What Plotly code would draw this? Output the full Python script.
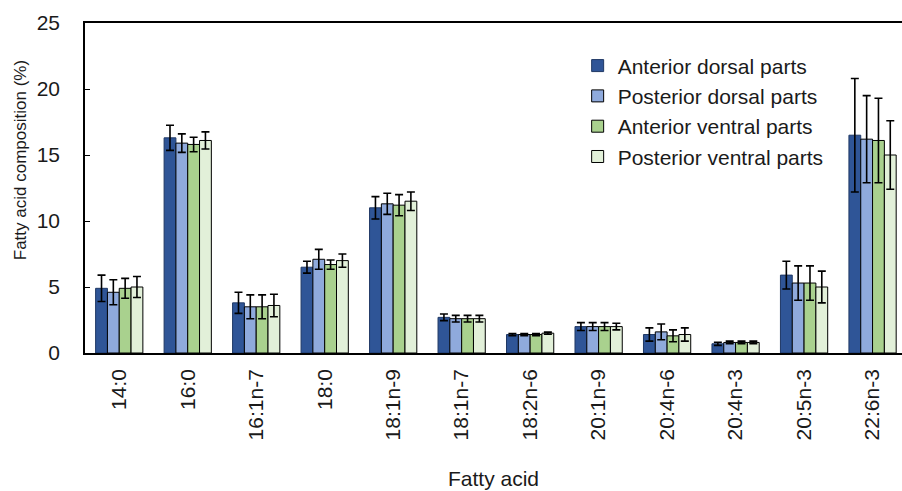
import plotly.graph_objects as go

# Fatty acid categories
acids = ["14:0", "16:0", "16:1n-7", "18:0", "18:1n-9", "18:1n-7",
         "18:2n-6", "20:1n-9", "20:4n-6", "20:4n-3", "20:5n-3", "22:6n-3"]

# Mean composition (%) per body part
ant_dorsal = [4.9, 16.3, 3.8, 6.5, 11.0, 2.7, 1.4, 2.0, 1.4, 0.7, 5.9, 16.5]
post_dorsal = [4.6, 15.9, 3.5, 7.1, 11.3, 2.6, 1.4, 2.0, 1.6, 0.8, 5.3, 16.2]
ant_ventral = [4.9, 15.8, 3.5, 6.7, 11.2, 2.6, 1.4, 2.0, 1.3, 0.8, 5.3, 16.1]
post_ventral = [5.0, 16.1, 3.6, 7.0, 11.5, 2.6, 1.5, 2.0, 1.4, 0.8, 5.0, 15.0]

# Standard deviations
ant_dorsal_sd = [1.0, 0.95, 0.8, 0.45, 0.85, 0.25, 0.08, 0.3, 0.5, 0.12, 1.05, 4.3]
post_dorsal_sd = [0.95, 0.7, 0.9, 0.75, 0.8, 0.25, 0.08, 0.3, 0.6, 0.1, 1.3, 3.3]
ant_ventral_sd = [0.75, 0.55, 0.9, 0.35, 0.8, 0.25, 0.08, 0.3, 0.45, 0.1, 1.3, 3.2]
post_ventral_sd = [0.8, 0.65, 0.85, 0.5, 0.7, 0.25, 0.08, 0.25, 0.5, 0.1, 1.2, 2.6]

series = [
    ("Anterior dorsal parts", ant_dorsal, ant_dorsal_sd, "#2F5597", "#1F3864"),
    ("Posterior dorsal parts", post_dorsal, post_dorsal_sd, "#8FAADC", "#000000"),
    ("Anterior ventral parts", ant_ventral, ant_ventral_sd, "#A9D18E", "#000000"),
    ("Posterior ventral parts", post_ventral, post_ventral_sd, "#E2F0D9", "#000000"),
]

fig = go.Figure()
for name, vals, sd, fill, edge in series:
    fig.add_trace(go.Bar(
        name=name, x=acids, y=vals,
        marker=dict(color=fill, line=dict(color=edge, width=1)),
        error_y=dict(type="data", array=sd, visible=True,
                     color="black", thickness=1.6, width=4),
    ))

font_family = "Liberation Sans, Arial, sans-serif"
text_color = "#1a1a1a"

fig.update_layout(
    width=902, height=491,
    margin=dict(l=85, r=0, t=23, b=138),
    barmode="group", bargap=0.31, bargroupgap=0.0,
    plot_bgcolor="white", paper_bgcolor="white",
    font=dict(family=font_family, color=text_color),
    legend=dict(x=0.603, y=0.932, xanchor="left", yanchor="top",
                font=dict(size=21, color=text_color),
                bgcolor="rgba(0,0,0,0)", tracegroupgap=5,
                itemwidth=30),
    xaxis=dict(
        range=[-0.5, 11.43],
        tickangle=-90, tickfont=dict(size=21),
        ticklabelstandoff=6,
        showline=True, linecolor="black", linewidth=1.5, mirror=True,
        ticks="", showgrid=False,
        title=dict(text="Fatty acid", font=dict(size=21), standoff=32),
    ),
    yaxis=dict(
        range=[0, 25], dtick=5,
        tickfont=dict(size=21),
        showline=True, linecolor="black", linewidth=1.5,
        ticks="inside", ticklen=5, tickcolor="black", tickwidth=1.2,
        ticklabelstandoff=19,
        showgrid=False, zeroline=False,
    ),
    annotations=[dict(
        text="Fatty acid composition (%)", textangle=-90,
        xref="paper", yref="paper", x=-0.078, y=0.585,
        xanchor="center", yanchor="middle", showarrow=False,
        font=dict(size=17, color=text_color),
    )],
)

fig.write_html("out.html")
